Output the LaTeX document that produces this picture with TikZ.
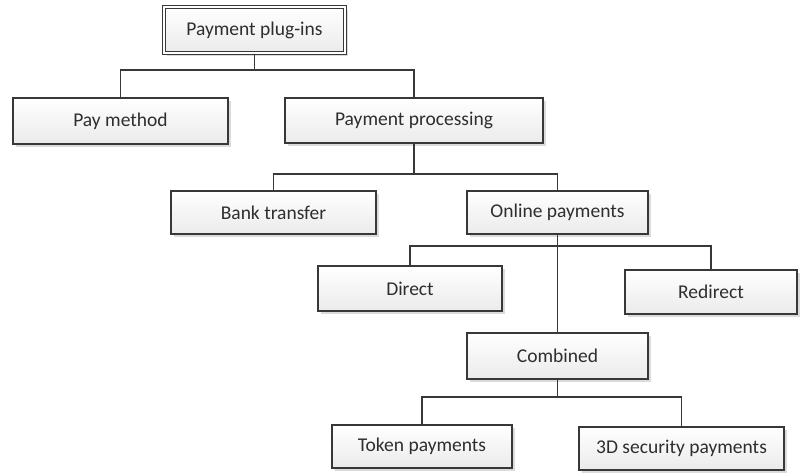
\documentclass[tikz,border=0pt]{standalone}
\usepackage{fontspec}
\setmainfont{Carlito}
\usetikzlibrary{shadows}
\definecolor{edge}{HTML}{383838}
\definecolor{txt}{HTML}{2E2E2E}
\tikzset{
  box/.style={draw=edge, line width=1.6pt, top color=white, bottom color=black!8,
    minimum width=#1, inner sep=0pt, text=txt,
    font=\fontsize{19.5}{23}\selectfont,
    drop shadow={shadow xshift=3pt, shadow yshift=-3pt, fill=black!14, opacity=1}},
  link/.style={draw=edge, line width=1.6pt}
}
\begin{document}
\begin{tikzpicture}[x=1pt,y=-1pt]
\useasboundingbox[fill=white] (0,0) rectangle (800,473);
\node[box=181pt, minimum height=46pt, double=white, double distance=1.3pt, line width=1.2pt] (root) at (254.5,30) {Payment plug-ins};
\node[box=215pt, minimum height=46pt] (pay) at (120.5,121) {Pay method};
\node[box=258pt, minimum height=45pt] (pp) at (414,120.5) {Payment processing};
\node[box=205pt, minimum height=43pt] (bank) at (273.5,212.5) {Bank transfer};
\node[box=181pt, minimum height=43pt] (online) at (557.5,212.5) {Online payments};
\node[box=184pt, minimum height=45pt] (direct) at (410,288.5) {Direct};
\node[box=172pt, minimum height=44pt] (redirect) at (711,292) {Redirect};
\node[box=181pt, minimum height=46pt] (combined) at (557.5,356) {Combined};
\node[box=180pt, minimum height=43pt] (token) at (422,446.5) {Token payments};
\node[box=205pt, minimum height=43pt] (sec) at (681.5,448.5) {3D security payments};
\coordinate (b1) at (0,70);
\coordinate (b2) at (0,174);
\coordinate (b3) at (0,246);
\coordinate (b4) at (0,397);
\draw[link] (root.south) -- (root.south |- b1);
\draw[link] (pay.north) -- (pay.north |- b1) -- (pp.north |- b1) -- (pp.north);
\draw[link] (pp.south) -- (pp.south |- b2);
\draw[link] (bank.north) -- (bank.north |- b2) -- (online.north |- b2) -- (online.north);
\draw[link] (direct.north) -- (direct.north |- b3) -- (redirect.north |- b3) -- (redirect.north);
\draw[link] (online.south) -- (combined.north);
\draw[link] (combined.south) -- (combined.south |- b4);
\draw[link] (token.north) -- (token.north |- b4) -- (sec.north |- b4) -- (sec.north);
\end{tikzpicture}
\end{document}
